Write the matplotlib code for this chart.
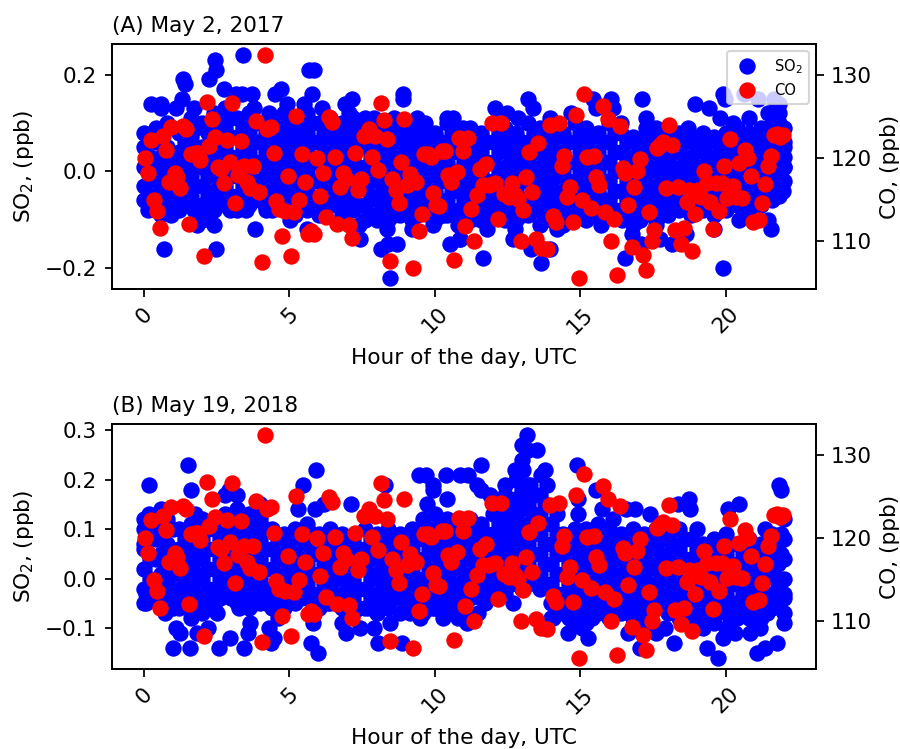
# diurnal SO2 and CO scatter for two days
import matplotlib
matplotlib.use("Agg")
import matplotlib.pyplot as plt

plt.rcParams["font.size"] = 10.4
plt.rcParams["axes.linewidth"] = 0.85
plt.rcParams["xtick.major.width"] = 0.85
plt.rcParams["ytick.major.width"] = 0.85
plt.rcParams["xtick.major.size"] = 3.6
plt.rcParams["ytick.major.size"] = 3.6

# CO, same trace on both panels
co_hours = [0.05,0.15,0.23,0.34,0.43,0.55,0.65,0.74,0.86,0.93,1.05,1.14,1.25,1.35,1.46,1.56,1.61,1.75,1.85,1.94,
    2.06,2.15,2.24,2.34,2.45,2.54,2.65,2.74,2.85,2.95,3.04,3.14,3.24,3.34,3.44,3.54,3.64,3.75,3.84,3.95,
    4.04,4.15,4.24,4.37,4.46,4.54,4.64,4.75,4.84,4.94,5.04,5.15,5.24,5.34,5.44,5.55,5.65,5.74,5.85,5.95,
    6.04,6.14,6.24,6.35,6.45,6.55,6.64,6.75,6.84,6.95,7.06,7.15,7.25,7.34,7.46,7.55,7.65,7.75,7.85,7.95,
    8.04,8.14,8.26,8.35,8.45,8.54,8.65,8.75,8.84,8.95,9.05,9.15,9.24,9.35,9.45,9.55,9.64,9.75,9.86,9.95,
    10.04,10.15,10.26,10.35,10.45,10.55,10.65,10.75,10.84,10.96,11.03,11.15,11.24,11.35,11.45,11.55,11.65,11.77,11.85,11.95,
    12.05,12.16,12.26,12.36,12.55,12.65,12.75,12.85,12.95,13.04,13.14,13.25,13.35,13.46,13.56,13.65,13.87,13.96,14.06,14.16,
    14.27,14.36,14.45,14.55,14.66,14.74,14.86,14.95,15.05,15.14,15.24,15.35,15.47,15.55,15.65,15.77,15.86,15.96,16.06,16.17,
    16.27,16.36,16.46,16.55,16.65,16.76,16.85,16.95,17.05,17.15,17.26,17.35,17.45,17.54,17.65,17.75,17.85,17.95,18.05,18.16,
    18.24,18.35,18.45,18.56,18.65,18.75,18.85,18.95,19.05,19.15,19.25,19.35,19.46,19.55,19.65,19.75,19.86,19.95,20.04,20.15,
    20.26,20.35,20.45,20.56,20.65,20.75,20.85,20.94,21.15,21.25,21.35,21.44,21.55,21.65,21.76,21.87,21.98]
co_ppb = [120.0,118.2,122.1,114.9,113.6,111.5,122.6,120.9,117.1,123.7,118.2,117.7,116.4,123.9,123.5,112.0,120.4,120.6,120.6,119.7,
    108.2,126.7,121.4,124.7,122.5,118.9,118.6,116.9,122.2,119.5,126.6,114.5,117.9,122.0,119.0,117.1,116.3,119.0,124.5,115.9,
    107.4,132.4,123.5,123.7,120.6,114.8,113.8,110.5,113.6,117.8,108.1,113.4,125.1,114.9,120.4,117.1,110.8,111.1,110.8,120.0,
    115.4,118.2,112.9,124.9,124.3,120.1,112.0,116.5,118.2,117.5,111.9,110.3,120.6,116.1,117.4,122.6,122.8,123.5,120.1,122.6,
    118.5,126.6,124.6,122.3,107.5,117.5,116.1,114.6,119.5,124.7,116.7,118.0,106.7,117.1,111.2,113.2,120.5,120.5,120.1,115.7,
    114.3,114.2,120.8,120.8,117.9,117.1,107.7,118.3,122.4,120.8,111.8,122.4,113.8,109.9,115.5,118.6,116.7,119.2,116.7,124.2,
    117.0,112.6,124.2,115.6,115.3,116.9,115.5,115.0,110.0,113.7,117.7,120.7,115.9,110.2,121.8,109.1,109.0,124.0,113.0,112.3,
    124.2,119.0,120.2,115.3,116.5,112.3,125.2,105.5,114.9,127.7,120.1,113.9,120.2,117.7,116.7,126.2,113.5,124.7,110.0,112.6,
    105.9,123.8,118.8,118.2,114.3,109.2,116.5,118.4,119.9,108.3,106.4,113.5,109.9,111.3,121.2,121.6,121.9,116.3,124.0,121.5,
    111.3,116.5,109.6,111.5,114.7,116.1,108.8,113.2,116.1,115.3,118.4,116.9,114.7,111.4,116.9,113.6,116.9,119.0,115.2,122.3,
    116.6,115.3,119.4,115.1,121.0,120.0,117.8,112.2,112.5,114.5,116.8,119.0,120.2,122.7,122.9,122.5,122.7]

core_hours = [0.0,0.4,0.8,1.2,1.6,2.0,2.4,2.8,3.2,3.6,4.0,4.4,4.8,5.2,5.6,6.0,6.4,6.8,7.2,7.6,8.0,8.4,8.8,
    9.2,9.6,10.0,10.4,10.8,11.2,11.6,12.0,12.4,12.8,13.2,13.6,14.0,14.4,14.8,15.2,15.6,16.0,16.4,16.8,17.2,17.6,
    18.0,18.4,18.8,19.2,19.6,20.0,20.4,20.8,21.2,21.6,22.0]
# in-between columns, offset from the first set
fill_hours = [0.2,0.6,1.0,1.4,1.8,2.2,2.6,3.0,3.4,3.8,4.2,4.6,5.0,5.4,5.8,6.2,6.6,7.0,7.4,7.8,8.2,8.6,9.0,
    9.4,9.8,10.2,10.6,11.0,11.4,11.8,12.2,12.6,13.0,13.4,13.8,14.2,14.6,15.0,15.4,15.8,16.2,16.6,17.0,17.4,17.8,
    18.2,18.6,19.0,19.4,19.8,20.2,20.6,21.0,21.4,21.8]

# May 2, 2017
so2a_core = [
    [0.08,0.05,0.01,-0.03,-0.06],[0.09,0.06,0.02,-0.02,-0.05,-0.08],[0.10,0.05,0.01,-0.03,-0.07],[0.08,0.04,0.0,-0.04,-0.08],
    [0.11,0.07,0.03,-0.01,-0.05],[0.10,0.05,0.01,-0.03,-0.07,-0.10],[0.12,0.08,0.04,0.0,-0.04,-0.08],[0.13,0.09,0.05,0.01,-0.03,-0.07],
    [0.11,0.07,0.03,-0.01,-0.05,-0.08],[0.12,0.08,0.04,0.0,-0.04,-0.07],[0.10,0.06,0.02,-0.02,-0.06],[0.11,0.07,0.03,-0.01,-0.05,-0.08],
    [0.12,0.08,0.04,0.0,-0.04,-0.08],[0.11,0.07,0.03,-0.01,-0.05,-0.09],[0.12,0.08,0.04,0.0,-0.04,-0.08],[0.10,0.06,0.02,-0.02,-0.06,-0.09],
    [0.11,0.07,0.03,-0.01,-0.05],[0.10,0.06,0.02,-0.02,-0.06,-0.09],[0.11,0.07,0.03,-0.01,-0.05,-0.08],[0.09,0.05,0.01,-0.03,-0.07,-0.10],
    [0.10,0.06,0.02,-0.02,-0.06,-0.09],[0.09,0.05,0.01,-0.03,-0.07,-0.10],[0.10,0.06,0.02,-0.02,-0.06,-0.09],
    [0.09,0.05,0.01,-0.03,-0.07,-0.10],[0.09,0.05,0.01,-0.03,-0.07],[0.08,0.04,0.0,-0.04,-0.08,-0.10],[0.10,0.06,0.02,-0.02,-0.06,-0.09],
    [0.08,0.04,0.0,-0.04,-0.08,-0.11],[0.09,0.05,0.01,-0.03,-0.07,-0.10],[0.08,0.04,0.0,-0.04,-0.08,-0.10],[0.10,0.06,0.02,-0.02,-0.06,-0.09],
    [0.09,0.05,0.01,-0.03,-0.07,-0.10],[0.08,0.04,0.0,-0.04,-0.08,-0.10],[0.10,0.06,0.02,-0.02,-0.06,-0.09],[0.09,0.05,0.01,-0.03,-0.07,-0.11],
    [0.09,0.05,0.01,-0.03,-0.07,-0.10],[0.08,0.04,0.0,-0.04,-0.08,-0.11],[0.10,0.06,0.02,-0.02,-0.06,-0.09],[0.09,0.05,0.01,-0.03,-0.07,-0.10],
    [0.08,0.04,0.0,-0.04,-0.08],[0.10,0.06,0.02,-0.02,-0.06,-0.09],[0.08,0.04,0.0,-0.04,-0.08],[0.07,0.03,-0.01,-0.05,-0.09,-0.11],
    [0.07,0.03,-0.01,-0.05,-0.09],[0.08,0.04,0.0,-0.04,-0.08,-0.11],
    [0.07,0.03,-0.01,-0.05,-0.09],[0.08,0.04,0.0,-0.04,-0.08],[0.07,0.03,-0.01,-0.05,-0.09],[0.08,0.04,0.0,-0.04,-0.08],
    [0.07,0.03,-0.01,-0.05,-0.09],[0.08,0.04,0.0,-0.04,-0.08],[0.09,0.05,0.01,-0.03,-0.07],[0.08,0.04,0.0,-0.04,-0.08],
    [0.09,0.05,0.01,-0.03,-0.07],[0.10,0.06,0.02,-0.02,-0.06],[0.09,0.05,0.01,-0.02]]
so2a_fill = [
    [0.07,0.03,-0.01,-0.05],[0.08,0.03,0.0,-0.04,-0.07],[0.09,0.03,-0.01,-0.05],[0.06,0.02,-0.02,-0.06],[0.09,0.05,0.01,-0.03,-0.07],
    [0.08,0.03,-0.01,-0.05,-0.09],[0.10,0.06,0.02,-0.02,-0.06],[0.11,0.07,0.03,-0.01,-0.05],[0.09,0.05,0.01,-0.03,-0.06],[0.10,0.06,0.02,-0.02,-0.05],
    [0.08,0.04,0.0,-0.04,-0.08],[0.09,0.05,0.01,-0.03,-0.07],[0.10,0.06,0.02,-0.02,-0.06],[0.09,0.05,0.01,-0.03,-0.07],[0.10,0.06,0.02,-0.02,-0.06],
    [0.08,0.04,0.0,-0.04,-0.08],[0.09,0.05,0.01,-0.03,-0.07],[0.08,0.04,0.0,-0.04,-0.08],[0.09,0.05,0.01,-0.03,-0.07],[0.07,0.03,-0.01,-0.05,-0.09],
    [0.08,0.04,0.0,-0.04,-0.08],[0.07,0.03,-0.01,-0.05,-0.09],[0.08,0.04,0.0,-0.04,-0.08],[0.07,0.03,-0.01,-0.05,-0.09],[0.07,0.03,-0.01,-0.05,-0.09],
    [0.06,0.02,-0.02,-0.06,-0.09],[0.08,0.04,0.0,-0.04,-0.08],[0.06,0.02,-0.02,-0.06,-0.10],[0.07,0.03,-0.01,-0.05,-0.09],[0.06,0.02,-0.02,-0.06,-0.09],
    [0.08,0.04,0.0,-0.04,-0.08],[0.07,0.03,-0.01,-0.05,-0.09],[0.06,0.02,-0.02,-0.06,-0.09],[0.08,0.04,0.0,-0.04,-0.08],[0.07,0.03,-0.01,-0.05,-0.09],
    [0.07,0.03,-0.01,-0.05,-0.09],[0.06,0.02,-0.02,-0.06,-0.10],[0.08,0.04,0.0,-0.04,-0.08],[0.07,0.03,-0.01,-0.05,-0.09],[0.06,0.02,-0.02,-0.06],
    [0.08,0.04,0.0,-0.04,-0.08],[0.06,0.02,-0.02,-0.06],[0.05,0.01,-0.03,-0.07,-0.10],[0.05,0.01,-0.03,-0.07],[0.06,0.02,-0.02,-0.06,-0.09],
    [0.05,0.01,-0.03,-0.07],[0.06,0.02,-0.02,-0.06],[0.05,0.01,-0.03,-0.07],[0.06,0.02,-0.02,-0.06],[0.05,0.01,-0.03,-0.07],
    [0.06,0.02,-0.02,-0.06],[0.07,0.03,-0.01,-0.05],[0.06,0.02,-0.02,-0.06],[0.07,0.03,-0.01,-0.05],[0.08,0.04,0.0,-0.04]]
so2a_hours = [3.41,2.45,2.49,2.25,1.34,1.40,1.32,2.74,3.15,3.37,3.72,0.23,0.57,0.57,1.09,1.72,5.66,5.86,4.71,4.49,5.77,4.92,5.49,7.15,6.92,
    6.12,4.29,8.90,8.90,7.60,7.90,8.58,9.38,9.66,10.40,10.63,10.98,3.77,7.03,
    0.69,2.49,2.40,3.81,1.81,8.44,8.15,8.40,8.69,7.43,5.60,8.35,9.20,10.52,10.86,5.03,0.92,0.13,0.57,1.72,2.17,2.97,3.52,4.17,8.0,7.38,9.95,10.29,
    13.21,13.38,12.06,12.47,12.87,13.95,14.69,16.07,16.12,15.44,15.55,17.13,17.24,17.24,16.41,18.93,19.42,19.79,19.90,19.98,20.24,20.81,20.64,21.12,
    21.67,21.84,21.44,21.84,21.84,18.70,17.61,22.0,22.0,22.0,21.96,21.84,
    11.64,13.66,13.32,13.97,12.69,12.75,11.78,10.86,14.18,15.72,15.44,16.43,17.04,16.78,16.55,17.09,17.73,18.15,18.64,19.92,19.61,20.47,21.56,21.44]
so2a_ppb = [0.24,0.23,0.21,0.19,0.19,0.18,0.15,0.17,0.16,0.16,0.16,0.14,0.14,0.13,0.13,0.13,0.21,0.21,0.17,0.16,0.16,0.14,0.14,0.15,0.14,
    0.13,0.12,0.16,0.15,0.11,0.11,0.11,0.11,0.10,0.11,0.11,0.09,0.13,0.12,
    -0.16,-0.16,-0.11,-0.12,-0.11,-0.22,-0.16,-0.15,-0.15,-0.14,-0.12,-0.12,-0.12,-0.15,-0.14,-0.10,-0.09,-0.08,-0.09,-0.08,-0.07,-0.08,-0.08,-0.07,-0.10,-0.11,-0.11,-0.09,
    0.15,0.13,0.13,0.12,0.11,0.11,0.12,0.15,0.13,0.15,0.13,0.15,0.11,0.09,0.10,0.14,0.13,0.11,0.16,0.15,0.10,0.11,0.16,0.15,
    0.15,0.14,0.12,0.12,0.10,0.09,0.09,0.06,0.03,0.01,-0.04,-0.05,
    -0.18,-0.19,-0.16,-0.16,-0.14,-0.12,-0.12,-0.14,-0.12,-0.11,-0.09,-0.10,-0.10,-0.13,-0.18,-0.15,-0.14,-0.15,-0.13,-0.20,-0.12,-0.10,-0.12,-0.10]

# May 19, 2018
so2b_core = [
    [0.10,0.06,0.02,-0.02,-0.05],[0.11,0.08,0.04,0.0,-0.04],[0.12,0.07,0.03,-0.01,-0.05],[0.10,0.06,0.02,-0.02,-0.06],
    [0.11,0.07,0.03,-0.01,-0.05],[0.12,0.08,0.04,0.0,-0.04,-0.07],[0.10,0.06,0.02,-0.02,-0.06],[0.13,0.09,0.05,0.01,-0.03],
    [0.14,0.10,0.06,0.02,-0.02,-0.05],[0.13,0.09,0.05,0.01,-0.03,-0.06],[0.12,0.08,0.04,0.0,-0.04],[0.10,0.06,0.02,-0.02,-0.06],
    [0.09,0.05,0.01,-0.03,-0.06],[0.10,0.06,0.02,-0.02,-0.05],[0.11,0.07,0.03,-0.01,-0.04],[0.09,0.05,0.01,-0.03,-0.06],
    [0.10,0.06,0.02,-0.02,-0.05],[0.09,0.05,0.01,-0.03,-0.06],[0.08,0.04,0.0,-0.04,-0.07],[0.10,0.06,0.02,-0.02,-0.06],
    [0.09,0.05,0.01,-0.03,-0.07],[0.10,0.06,0.02,-0.02,-0.06],[0.09,0.05,0.01,-0.03,-0.07],
    [0.10,0.06,0.02,-0.02,-0.06],[0.12,0.08,0.04,0.0,-0.04,-0.07],[0.13,0.09,0.05,0.01,-0.03,-0.06],[0.12,0.08,0.04,0.0,-0.04,-0.07],
    [0.11,0.07,0.03,-0.01,-0.05,-0.08],[0.12,0.08,0.04,0.0,-0.04],[0.11,0.07,0.03,-0.01,-0.04],[0.13,0.09,0.05,0.01,-0.02],
    [0.17,0.13,0.09,0.05,0.01,-0.03],[0.20,0.16,0.12,0.08,0.04,0.0],[0.19,0.15,0.11,0.07,0.03,-0.01],[0.17,0.13,0.09,0.05,0.01],
    [0.11,0.07,0.03,-0.01,-0.05,-0.08],[0.09,0.05,0.01,-0.03,-0.07],[0.10,0.06,0.02,-0.02,-0.06,-0.09],[0.10,0.06,0.02,-0.02,-0.06,-0.09],
    [0.11,0.07,0.03,-0.01,-0.05,-0.07],[0.10,0.06,0.02,-0.02,-0.06,-0.08],[0.09,0.05,0.01,-0.03,-0.07],[0.10,0.06,0.02,-0.02,-0.06,-0.08],
    [0.09,0.05,0.01,-0.03,-0.07,-0.09],[0.10,0.06,0.02,-0.02,-0.06],
    [0.09,0.05,0.01,-0.03,-0.07],[0.10,0.06,0.02,-0.02,-0.06,-0.08],[0.08,0.04,0.0,-0.04,-0.08],[0.07,0.03,-0.01,-0.05,-0.08],
    [0.08,0.04,0.0,-0.04,-0.07,-0.09],[0.09,0.05,0.01,-0.03,-0.07],[0.07,0.03,-0.01,-0.05,-0.08],[0.08,0.04,0.0,-0.04,-0.08],
    [0.07,0.03,-0.01,-0.05,-0.08],[0.09,0.05,0.01,-0.03,-0.06],[0.08,0.04,0.0,-0.04,-0.07]]
so2b_fill = [
    [0.08,0.04,0.0,-0.04],[0.09,0.05,0.01,-0.03],[0.10,0.05,0.01,-0.03,-0.06],[0.08,0.04,0.0,-0.04],[0.09,0.05,0.01,-0.03,-0.06],
    [0.10,0.06,0.02,-0.02,-0.06],[0.08,0.04,0.0,-0.04],[0.11,0.07,0.03,-0.01,-0.04],[0.12,0.08,0.04,0.0,-0.04],[0.11,0.07,0.03,-0.01,-0.05],
    [0.10,0.06,0.02,-0.02,-0.05],[0.08,0.04,0.0,-0.04],[0.07,0.03,-0.01,-0.05],[0.08,0.04,0.0,-0.04],[0.09,0.05,0.01,-0.03],
    [0.07,0.03,-0.01,-0.05],[0.08,0.04,0.0,-0.04],[0.07,0.03,-0.01,-0.05],[0.06,0.02,-0.02,-0.06],[0.08,0.04,0.0,-0.04],
    [0.07,0.03,-0.01,-0.05],[0.08,0.04,0.0,-0.04],[0.07,0.03,-0.01,-0.05],[0.08,0.04,0.0,-0.04],[0.10,0.06,0.02,-0.02,-0.06],
    [0.11,0.07,0.03,-0.01,-0.05],[0.10,0.06,0.02,-0.02,-0.06],[0.09,0.05,0.01,-0.03,-0.07],[0.10,0.06,0.02,-0.02],[0.09,0.05,0.01,-0.03],
    [0.11,0.07,0.03,-0.01],[0.15,0.11,0.07,0.03,-0.01],[0.18,0.14,0.10,0.06,0.02,-0.02],[0.17,0.13,0.09,0.05,0.01],[0.15,0.11,0.07,0.03,-0.01],
    [0.09,0.05,0.01,-0.03,-0.07],[0.07,0.03,-0.01,-0.05,-0.08],[0.08,0.04,0.0,-0.04,-0.08],[0.08,0.04,0.0,-0.04,-0.08],[0.09,0.05,0.01,-0.03,-0.06],
    [0.08,0.04,0.0,-0.04,-0.07],[0.07,0.03,-0.01,-0.05],[0.08,0.04,0.0,-0.04,-0.07],[0.07,0.03,-0.01,-0.05,-0.08],[0.08,0.04,0.0,-0.04],
    [0.07,0.03,-0.01,-0.05],[0.08,0.04,0.0,-0.04,-0.07],[0.06,0.02,-0.02,-0.06],[0.05,0.01,-0.03,-0.07],[0.06,0.02,-0.02,-0.06],
    [0.07,0.03,-0.01,-0.05],[0.05,0.01,-0.03,-0.07],[0.06,0.02,-0.02,-0.06],[0.05,0.01,-0.03,-0.07],[0.07,0.03,-0.01,-0.05]]
so2b_hours = [1.51,0.18,1.60,5.92,5.47,8.29,9.47,9.70,9.93,9.93,10.38,10.86,11.15,10.43,9.72,2.92,3.20,2.80,4.0,5.29,5.89,7.12,6.18,0.57,0.17,0.0,1.77,0.0,
    1.01,1.58,2.57,3.43,2.97,4.35,4.46,4.29,3.57,3.66,2.21,1.83,1.09,1.23,1.60,0.73,0.06,0.06,2.52,2.29,3.26,4.0,4.52,4.61,5.75,5.97,5.81,6.80,6.94,
    7.43,7.89,8.06,8.0,8.44,8.86,7.72,6.29,10.29,11.09,9.49,9.15,9.95,
    13.15,13.0,13.5,13.2,13.0,12.75,13.04,13.78,13.64,11.6,11.46,11.6,11.89,12.41,13.84,13.27,14.9,14.93,15.55,15.73,16.87,16.58,17.38,18.35,18.73,18.76,
    20.07,20.47,21.82,21.88,22.0,21.9,21.33,19.0,16.13,14.18,14.92,21.9,21.73,22.0,22.0,21.75,21.33,21.08,21.18,20.82,20.3,19.9,19.73,19.36,19.2,18.22,17.9,17.6,
    17.04,16.64,15.27,15.07,14.58,14.07,12.69,12.24,11.72,11.49,13.6,15.55,16.81,20.02]
so2b_ppb = [0.23,0.19,0.18,0.22,0.19,0.19,0.21,0.21,0.19,0.18,0.21,0.21,0.21,0.16,0.15,0.18,0.17,0.17,0.15,0.14,0.14,0.15,0.15,0.14,0.13,0.12,0.13,0.07,
    -0.14,-0.14,-0.14,-0.14,-0.12,-0.13,-0.12,-0.10,-0.11,-0.09,-0.10,-0.11,-0.10,-0.11,-0.08,-0.07,-0.05,-0.03,-0.07,-0.05,-0.06,-0.05,-0.06,-0.08,-0.13,-0.15,-0.09,-0.09,-0.11,
    -0.10,-0.10,-0.13,-0.07,-0.09,-0.13,-0.06,-0.05,-0.08,-0.09,-0.08,-0.07,-0.06,
    0.29,0.27,0.26,0.26,0.24,0.22,0.22,0.22,0.21,0.23,0.19,0.18,0.17,0.19,0.19,0.19,0.23,0.16,0.18,0.14,0.14,0.14,0.13,0.15,0.16,0.14,
    0.14,0.15,0.19,0.18,0.12,0.09,0.10,0.10,0.12,0.13,0.13,0.05,0.0,-0.03,-0.09,-0.13,-0.14,-0.15,-0.10,-0.11,-0.11,-0.12,-0.16,-0.14,-0.10,-0.13,-0.10,-0.11,
    -0.14,-0.11,-0.12,-0.10,-0.11,-0.08,-0.05,-0.02,-0.05,-0.07,-0.02,-0.07,-0.08,-0.10]

panel_titles = ["(A) May 2, 2017", "(B) May 19, 2018"]
panel_core = [so2a_core, so2b_core]
panel_fill = [so2a_fill, so2b_fill]
panel_hours = [so2a_hours, so2b_hours]
panel_ppb = [so2a_ppb, so2b_ppb]

fig, axes = plt.subplots(2, 1, figsize=(6, 749 / 150), dpi=150)
fig.subplots_adjust(left=112 / 900, right=816 / 900, top=1 - 44 / 749, bottom=1 - 669 / 749, hspace=135 / 245)

for i, ax in enumerate(axes):
    # flatten the column readings and add the outer points
    x = [h for h, col in zip(core_hours, panel_core[i]) for v in col]
    y = [v for col in panel_core[i] for v in col]
    x += [h for h, col in zip(fill_hours, panel_fill[i]) for v in col]
    y += [v for col in panel_fill[i] for v in col]
    x += panel_hours[i]
    y += panel_ppb[i]
    s1 = ax.scatter(x, y, color="blue", s=62, linewidths=0, label="SO$_2$")
    ax.set_title(panel_titles[i], loc="left", fontsize=10.4, pad=6)
    ax.set_xlabel("Hour of the day, UTC", labelpad=5)
    ax.set_ylabel("SO$_2$, (ppb)", labelpad=4.2)
    ax.tick_params(axis="x", labelrotation=45)

    ax2 = ax.twinx()
    s2 = ax2.scatter(co_hours, co_ppb, color="red", s=62, linewidths=0, label="CO")
    ax2.set_ylabel("CO, (ppb)", labelpad=4)
    if i == 0:
        ax2.legend(handles=[s1, s2], loc="upper right", fontsize=7.1, scatteryoffsets=[0.5])

plt.savefig("out.png", dpi=150)
